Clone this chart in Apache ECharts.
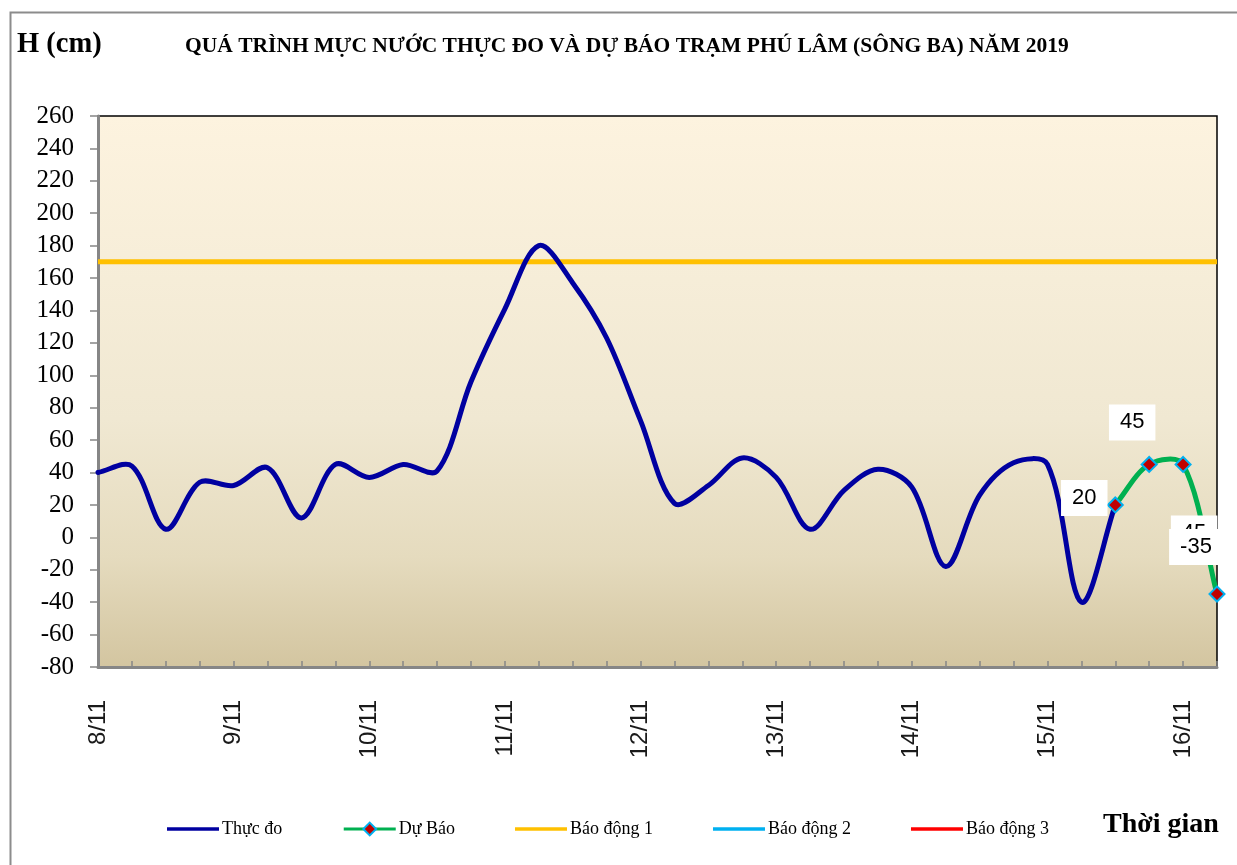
<!DOCTYPE html>
<html>
<head>
<meta charset="utf-8">
<script src="https://cdn.jsdelivr.net/npm/echarts@6/dist/echarts.min.js"></script>
<style>
html,body{margin:0;padding:0;background:#fff;}
#chart{width:1237px;height:865px;}
</style>
</head>
<body>
<div id="chart"></div>
<script>
// ---- data ----
const days = ['8/11','9/11','10/11','11/11','12/11','13/11','14/11','15/11','16/11'];
const hours = ['00h','06h','12h','18h'];
const categories = [];
days.forEach(function(d, i){
  hours.forEach(function(h, j){
    if (i < days.length - 1 || j <= 1) categories.push(d + ' ' + h);
  });
});
const thucDo = [40, 44, 5, 34, 32, 43, 12, 45, 37, 45, 41, 96, 141, 180, 157, 123, 72, 21, 32, 49, 37, 5, 29, 42, 31, -18, 26, 46, 45, -40, 20];
const duBaoStart = 30;
const duBao = [20, 45, 45, -35];
const baoDong1 = 170;
const yTicks = {min: -80, max: 260, step: 20};
const titleText = 'QUÁ TRÌNH MỰC NƯỚC THỰC ĐO VÀ DỰ BÁO TRẠM PHÚ LÂM (SÔNG BA) NĂM 2019';

// ---- build series data ----
const symSize = 15;
const labelOffsets = [[-30,-6],[-16,-41],[12,70],[-20,-46]];
const duBaoData = categories.map(function(c, i){
  const k = i - duBaoStart;
  if (k < 0 || k >= duBao.length) return '-';
  return {
    value: duBao[k],
    label: {
      show: true,
      position: [symSize / 2 + labelOffsets[k][0], symSize / 2 + labelOffsets[k][1]],
      align: 'center', verticalAlign: 'middle'
    }
  };
});
const bd1Data = categories.map(function(){ return baoDong1; });

// Excel-like smooth curve (chord-weighted Catmull-Rom as cubic Bezier) through the
// data points, positioned with the chart's own axis scales (api.coord).
function smoothRender(vals, start, color) {
  return function(params, api) {
    if (params.dataIndex !== 0) return null;
    const pts = vals.map(function(v, k){ return api.coord([start + k, v]); });
    function dist(a, b){ return Math.sqrt((a[0]-b[0])*(a[0]-b[0]) + (a[1]-b[1])*(a[1]-b[1])); }
    let d = 'M' + pts[0][0] + ',' + pts[0][1];
    for (let k = 0; k < pts.length - 1; k++) {
      const p0 = pts[k - 1] || pts[k], p1 = pts[k], p2 = pts[k + 1], p3 = pts[k + 2] || pts[k + 1];
      const d01 = dist(p0, p1), d12 = dist(p1, p2), d23 = dist(p2, p3);
      const f1 = d12 / (3 * (d01 + d12));
      const f2 = d12 / (3 * (d12 + d23));
      const c1x = p1[0] + (p2[0] - p0[0]) * f1, c1y = p1[1] + (p2[1] - p0[1]) * f1;
      const c2x = p2[0] - (p3[0] - p1[0]) * f2, c2y = p2[1] - (p3[1] - p1[1]) * f2;
      d += ' C' + c1x + ',' + c1y + ' ' + c2x + ',' + c2y + ' ' + p2[0] + ',' + p2[1];
    }
    return {
      type: 'path',
      shape: {pathData: d},
      style: {fill: 'none', stroke: color, lineWidth: 5, lineJoin: 'round', lineCap: 'round'}
    };
  };
}

const serif = '"Liberation Serif", "Times New Roman", serif';
const sans = '"Liberation Sans", Arial, sans-serif';
const lineIcon = 'path://M0,0 H52 V3.5 H0 Z';

const chart = echarts.init(document.getElementById('chart'), null, {renderer: 'canvas'});
chart.setOption({
  animation: false,
  backgroundColor: '#ffffff',
  title: {
    text: titleText,
    left: 180, top: 30,
    textStyle: {fontFamily: serif, fontWeight: 'bold', fontSize: 21.5, color: '#000'}
  },
  graphic: [
    {type: 'rect', left: 8, top: 10, z: -10,
     shape: {width: 1260, height: 900},
     style: {fill: 'none', stroke: '#8c8c8c', lineWidth: 2}},
    {type: 'text', left: 17, top: 30,
     style: {text: 'H (cm)', font: 'bold 28.5px ' + serif, fill: '#000'}},
    {type: 'text', left: 1103, top: 811,
     style: {text: 'Thời gian', font: 'bold 28px ' + serif, fill: '#000'}}
  ],
  legend: {
    left: 162, top: 815,
    itemWidth: 52, itemHeight: 16, itemGap: 60,
    textStyle: {fontFamily: serif, fontSize: 18, color: '#000', padding: [0,0,0,-2]},
    data: [
      {name: 'Thực đo', icon: lineIcon},
      {name: 'Dự Báo', lineStyle: {color: '#00b050', width: 3, opacity: 1}},
      {name: 'Báo động 1', icon: lineIcon},
      {name: 'Báo động 2', icon: lineIcon},
      {name: 'Báo động 3', icon: lineIcon}
    ]
  },
  grid: {
    left: 98, right: 20, top: 116, bottom: 198,
    show: true,
    backgroundColor: new echarts.graphic.LinearGradient(0, 0, 0, 1, [
      {offset: 0, color: '#fdf3df'},
      {offset: 0.55, color: '#f0e8d2'},
      {offset: 0.8, color: '#e5dbbe'},
      {offset: 1, color: '#d3c5a0'}
    ]),
    borderColor: '#000', borderWidth: 1.5
  },
  xAxis: {
    type: 'category',
    data: categories,
    boundaryGap: false,
    axisLine: {show: true, onZero: false, lineStyle: {color: '#868686', width: 3}},
    axisTick: {show: true, inside: true, interval: 0, length: 6, lineStyle: {color: '#868686', width: 1.5}},
    axisLabel: {
      interval: 3, rotate: 90, margin: 33,
      fontFamily: sans, fontSize: 24, color: '#1a1a1a',
      formatter: function(v){ return v.split(' ')[0]; }
    },
    splitLine: {show: false}
  },
  yAxis: {
    type: 'value',
    min: yTicks.min, max: yTicks.max, interval: yTicks.step,
    axisLine: {show: true, lineStyle: {color: '#868686', width: 3}},
    axisTick: {show: true, length: 8, lineStyle: {color: '#868686', width: 1.5}},
    axisLabel: {margin: 24, fontFamily: serif, fontSize: 25, color: '#000'},
    splitLine: {show: false}
  },
  series: [
    {
      name: 'Báo động 1', type: 'line', data: bd1Data,
      symbol: 'none', color: '#ffc000',
      lineStyle: {color: '#ffc000', width: 5}, z: 2
    },
    {
      name: 'Báo động 2', type: 'line', data: [],
      symbol: 'none', color: '#00b0f0', lineStyle: {color: '#00b0f0', width: 3}
    },
    {
      name: 'Báo động 3', type: 'line', data: [],
      symbol: 'none', color: '#ff0000', lineStyle: {color: '#ff0000', width: 3}
    },
    {
      name: 'Thực đo', type: 'custom', coordinateSystem: 'cartesian2d',
      data: thucDo.map(function(v, i){ return [i, v]; }),
      encode: {x: 0, y: 1},
      itemStyle: {color: '#0000a0'},
      renderItem: smoothRender(thucDo, 0, '#0000a0'),
      z: 3
    },
    {
      name: 'Dự Báo curve', type: 'custom', coordinateSystem: 'cartesian2d',
      data: duBao.map(function(v, k){ return [duBaoStart + k, v]; }),
      encode: {x: 0, y: 1},
      itemStyle: {color: '#00b050'},
      renderItem: smoothRender(duBao, duBaoStart, '#00b050'),
      z: 3
    },
    {
      name: 'Dự Báo', type: 'line', data: duBaoData,
      color: '#00b050',
      symbol: 'diamond', symbolSize: symSize, showSymbol: true,
      itemStyle: {color: '#c00000', borderColor: '#00b0f0', borderWidth: 2},
      lineStyle: {color: '#00b050', width: 5, opacity: 0}, z: 4,
      label: {
        fontFamily: sans, fontSize: 22, color: '#000',
        backgroundColor: '#ffffff', padding: [7, 11]
      },
      labelLayout: {hideOverlap: false}
    }
  ]
});
</script>
</body>
</html>
